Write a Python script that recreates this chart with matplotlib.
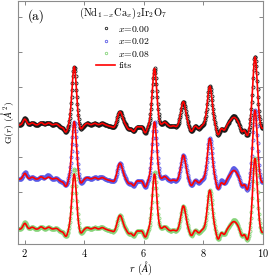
import numpy as np
import matplotlib
matplotlib.use('Agg')
import matplotlib.pyplot as plt

plt.rcParams['font.family']               = 'serif'
plt.rcParams['font.serif']                = ['cmr10', 'DejaVu Serif']
plt.rcParams['mathtext.fontset']          = 'cm'
plt.rcParams['axes.formatter.use_mathtext'] = True

# Main PDF peaks (positions in Angstrom) and heights per sample
peakR     = [3.66, 5.20, 6.36, 7.33, 8.22, 9.03, 9.74]
peakSigma = [0.075, 0.085, 0.075, 0.08, 0.08, 0.12, 0.075]
heights000 = [1.67, 0.38, 1.62, 0.67, 1.11, 0.22, 1.95]
heights002 = [1.65, 0.46, 1.64, 0.69, 1.17, 0.25, 1.98]
heights008 = [1.58, 0.40, 1.58, 0.67, 1.12, 0.22, 2.03]

# Small ripples common to all fits
rippleR = [2.00, 2.25, 2.55, 2.80, 3.05, 3.22, 3.38, 3.88, 4.10, 4.35, 4.60, 4.85, 5.00,
           5.50, 5.66, 5.85, 6.05, 6.70, 6.90, 7.10, 7.60, 7.85, 8.50, 8.70, 9.30, 9.48, 9.98]
rippleH = [0.17, 0.06, 0.07, 0.06, 0.03, -0.06, -0.20, -0.12, 0.05, 0.05, 0.05, -0.03, -0.08,
           -0.12, -0.18, -0.05, -0.22, 0.08, -0.04, -0.05, -0.18, -0.10, -0.28, -0.15, -0.20, -0.30, -0.10]

# Data - fit misfits per sample
misfitR000 = [2.00, 2.70, 9.00]
misfitH000 = [0.03, 0.03, 0.05]
misfitR002 = [2.05, 2.75, 3.45, 4.50, 8.60, 9.00]
misfitH002 = [0.05, 0.08, 0.05, 0.04, 0.08, 0.08]
misfitR008 = [2.00, 3.66, 4.50, 6.36, 9.05]
misfitH008 = [0.04, 0.14, 0.03, 0.05, 0.05]

labels  = [r'$x$=0.00', r'$x$=0.02', r'$x$=0.08']
offsets = [2.92, 1.37, -0.06]
colors  = ['0.1', '#5a5ae6', '#86d47a']


def Gauss(r, centers, amps, sigma):
    sigmas = np.broadcast_to(np.asarray(sigma, dtype=float), (len(centers),))
    out = np.zeros_like(r)
    for c, a, s in zip(centers, amps, sigmas):
        out += a * np.exp(-0.5 * ((r - c) / s) ** 2)
    return out


r = np.arange(1.80, 10.01, 0.015)
ripple = Gauss(r, rippleR, rippleH, 0.06)

fig = plt.figure(figsize=(2.69, 2.76), dpi=100)
ax = fig.add_axes([0.068, 0.116, 0.911, 0.882])

samples = [(heights000, misfitR000, misfitH000),
           (heights002, misfitR002, misfitH002),
           (heights008, misfitR008, misfitH008)]

for (hts, mR, mH), off, col, lab in zip(samples, offsets, colors, labels):
    fit = off + Gauss(r, peakR, hts, peakSigma) + ripple
    obs = fit + Gauss(r, mR, mH, 0.07)
    ax.plot(r, obs, ls='none', marker='o', ms=2.2, mfc='none', mec=col, mew=0.6, label=lab)
    line, = ax.plot(r, fit, color='red', lw=1.2)

line.set_label('fits')

ax.set_xlim(1.78, 10.02)
ax.set_ylim(-0.48, 6.48)
ax.set_xticks([2, 4, 6, 8, 10])
ax.set_yticks(range(0, 7))
ax.set_yticklabels([])
ax.tick_params(direction='in', top=True, right=True, labelsize=7.5, color='0.45', length=3, width=0.6, pad=2.5)
for sp in ax.spines.values():
    sp.set_color('0.55')
    sp.set_linewidth(0.8)

ax.set_xlabel(r'$r$ ($\AA$)', fontsize=7.5, labelpad=0)
ax.set_ylabel(r'G($r$) ($\AA^2$)', fontsize=7)
ax.yaxis.set_label_coords(-0.008, 0.5)

ax.text(0.04, 0.965, '(a)', transform=ax.transAxes, fontsize=9.5, va='top', ha='left')

leg = ax.legend(loc='upper left', bbox_to_anchor=(0.22, 1.005), frameon=False, fontsize=7,
                title=r'(Nd$_{1-x}$Ca$_x$)$_2$Ir$_2$O$_7$', title_fontsize=7.5, markerscale=0.8,
                labelspacing=0.25, handlelength=2.0, handletextpad=0.3, borderpad=0.2)

fig.savefig('out.png', dpi=100)
